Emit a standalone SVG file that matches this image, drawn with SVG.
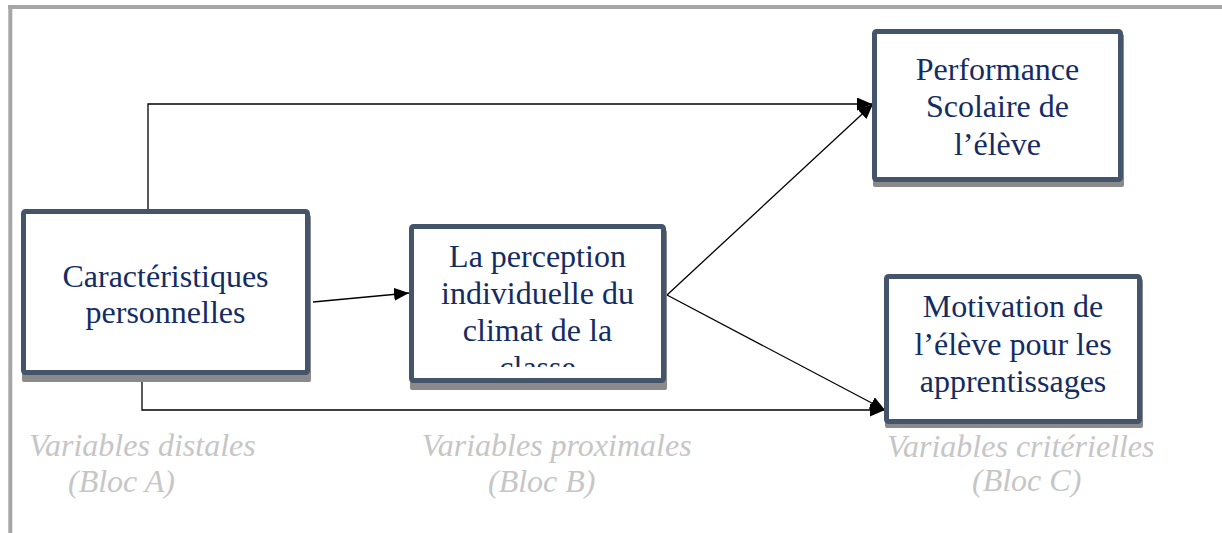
<svg xmlns="http://www.w3.org/2000/svg" width="1222" height="533" viewBox="0 0 1222 533">
<style>
.frame{stroke:#a6a6a6;stroke-width:4;fill:none}
.box{fill:#ffffff;stroke:#44546a;stroke-width:5}
.shadow{fill:#8a8a8a}
.lbl{font-family:"Liberation Serif","Times New Roman",serif;font-size:32px;fill:#142c64;text-anchor:middle}
.var{font-family:"Liberation Serif","Times New Roman",serif;font-size:32px;font-style:italic;fill:#c6c6c6}
.conn{stroke:#000;stroke-width:1.3;fill:none}
</style>
<defs>
<marker id="arr" markerUnits="userSpaceOnUse" markerWidth="15" markerHeight="13" refX="15" refY="6.5" orient="auto">
<path d="M0,0 L15,6.5 L0,13 z" fill="#000"/>
</marker>
<clipPath id="clipB"><rect x="414" y="229" width="247" height="138"/></clipPath>
</defs>
<rect width="1222" height="533" fill="#ffffff"/>
<g id="frame">
<line class="frame" x1="8" y1="7" x2="1222" y2="7"/>
<line class="frame" x1="10.3" y1="5" x2="10.3" y2="533"/>
</g>
<g id="connectors">
<path class="conn" d="M148,210 V104 H872" marker-end="url(#arr)"/>
<path class="conn" d="M667,295 L873,104" marker-end="url(#arr)"/>
<path class="conn" d="M667,295 L885,410" marker-end="url(#arr)"/>
<path class="conn" d="M142,382 V410 H885" marker-end="url(#arr)"/>
<path class="conn" d="M313,302 L409,293" marker-end="url(#arr)"/>
</g>
<g id="nodeA">
<rect class="shadow" x="22" y="215" width="289" height="167" rx="2"/>
<rect class="box" x="23.5" y="211.5" width="284" height="161" rx="2"/>
<text class="lbl" x="165.5" y="287">Caractéristiques</text>
<text class="lbl" x="165.5" y="323">personnelles</text>
</g>
<g id="nodeB">
<rect class="shadow" x="410" y="230" width="257" height="160" rx="2"/>
<rect class="box" x="411.5" y="226.5" width="252" height="154" rx="2"/>
<g clip-path="url(#clipB)">
<text class="lbl" x="537.5" y="267">La perception</text>
<text class="lbl" x="537.5" y="304">individuelle du</text>
<text class="lbl" x="537.5" y="341">climat de la</text>
<text class="lbl" x="537.5" y="378">classe</text>
</g>
</g>
<g id="nodeP">
<rect class="shadow" x="873" y="34" width="251" height="153" rx="2"/>
<rect class="box" x="874.5" y="31.5" width="246" height="148" rx="2"/>
<text class="lbl" x="997.5" y="80">Performance</text>
<text class="lbl" x="997.5" y="117">Scolaire de</text>
<text class="lbl" x="997.5" y="155">l’élève</text>
</g>
<g id="nodeM">
<rect class="shadow" x="885" y="279" width="258" height="149" rx="2"/>
<rect class="box" x="886.5" y="276.5" width="253" height="145" rx="2"/>
<text class="lbl" x="1013" y="317">Motivation de</text>
<text class="lbl" x="1013" y="355">l’élève pour les</text>
<text class="lbl" x="1013" y="392">apprentissages</text>
</g>
<g id="labels">
<text class="var" x="29" y="456">Variables distales</text>
<text class="var" x="68" y="492">(Bloc A)</text>
<text class="var" x="421.7" y="456">Variables proximales</text>
<text class="var" x="488" y="492">(Bloc B)</text>
<text class="var" x="887" y="457">Variables critérielles</text>
<text class="var" x="972" y="491">(Bloc C)</text>
</g>
</svg>
